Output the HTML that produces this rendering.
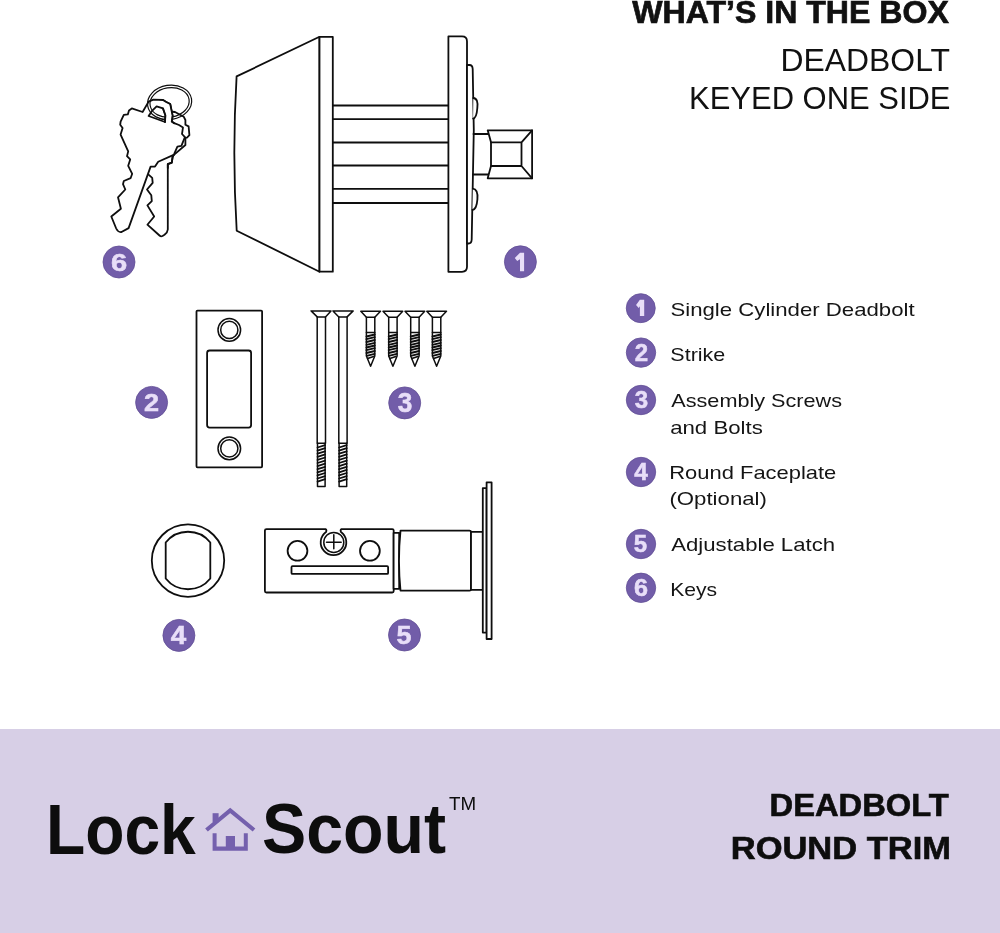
<!DOCTYPE html>
<html><head><meta charset="utf-8">
<style>
html,body{margin:0;padding:0;background:#fff;width:1000px;height:933px;overflow:hidden}
svg{display:block;will-change:transform}
text{font-family:"Liberation Sans",sans-serif}
.ln{fill:none;stroke:#0e0e0e;stroke-width:1.8;stroke-linejoin:round;stroke-linecap:round}
.lf{fill:#fff;stroke:#0e0e0e;stroke-width:1.8;stroke-linejoin:round;stroke-linecap:round}
.thin{stroke-width:1.5}
.bd circle{fill:#7058a6}
.bd text{fill:#e7def7;font-weight:bold;text-anchor:middle}
</style></head>
<body>
<svg width="1000" height="933" viewBox="0 0 1000 933">
<rect x="0" y="0" width="1000" height="933" fill="#fff"/>

<!-- HEADER TEXT -->
<text id="t_what" x="632.20" y="23.1" font-size="31.6" font-weight="bold" fill="#111" stroke="#111" stroke-width="0.7" textLength="316.60" lengthAdjust="spacingAndGlyphs">WHAT’S IN THE BOX</text>
<text id="t_deadbolt" x="780.47" y="71.4" font-size="30.6" fill="#111" textLength="169.54" lengthAdjust="spacingAndGlyphs">DEADBOLT</text>
<text id="t_keyed" x="689.09" y="108.8" font-size="30.6" fill="#111" textLength="261.43" lengthAdjust="spacingAndGlyphs">KEYED ONE SIDE</text>

<!-- DEADBOLT -->
<g id="deadbolt">
<path class="lf" d="M319.5,36.8 L236.6,76.4 Q232,153.5 236.7,230.7 L319.5,271.7 Z"/>
<rect class="lf" x="319.5" y="36.8" width="13.3" height="234.9"/>
<path class="ln" d="M332.8,105.5H448 M332.8,119.1H448 M332.8,142.5H448 M332.8,165.5H448 M332.8,188.9H448 M332.8,203H448"/>
<path class="lf" d="M448.4,36.4 H462 Q467,36.4 467,41.4 V266.8 Q467,271.8 462,271.8 H448.4 Z"/>
<path class="lf" d="M467,65 H469.5 Q472.5,65 472.7,69 L473.8,130 L471.7,239.5 Q471.5,243.5 468.5,243.5 H467 Z"/>
<path class="lf" d="M473.3,98 Q478.6,98.5 477.3,108.3 Q476.6,118.2 473.1,118.7"/>
<path class="lf" d="M472.8,188.6 Q478.3,189.2 477.4,199.3 Q476.6,209.5 472.4,210"/>
<path class="ln" d="M473.5,134 H488.5 M473,174.5 H488.5"/>
<path class="lf" d="M487.7,130.3 H532.1 V178.3 H487.7 L491,166 V142.3 Z"/>
<path class="ln" d="M491,142.3 H521.5 V166 H491 M521.5,142.3 L532.1,130.3 M521.5,166 L532.1,178.3"/>
</g>

<!-- KEYS -->
<g id="keys">
<path class="lf" stroke-width="1.6" d="M183.8,116.8 L185.4,120 L185.4,124.8 L188.6,126.4 L189.4,135.2 L187,137.6 L184.6,137.8 L181.4,145.8 L177.4,146.6 L174.2,153.8 L172.6,157 L171.8,162.6 L167.8,164.2 L167.8,229.5 Q167.6,232.5 164.5,234.8 L162.5,236 Q160.9,236.8 159.5,235.5 L147.4,224.7 L154.2,216.5 L147.4,205.4 L151.8,201.1 L151.3,195.3 L147,189.5 L152.7,182.8 L152.2,177.8 L148.6,174.6 L145,170 L140,140 L150,110 L175,112 Z"/>
<path class="lf" stroke-width="1.6" d="M142.6,112 L131.8,108.4 L129,110.4 L127.8,114.4 L123.8,114.8 L120.6,121.6 L120.2,124.8 L122.6,128 L120.6,134.6 L128.2,151.4 L127,156.2 L130.2,159.4 L128.2,165.8 L132.2,173.8 L130.6,178.2 L123.8,181 L123,184.2 L125.3,189.5 L118,197.3 L120.9,208.8 L111.3,216.5 L116.2,228.5 Q118,232.5 121.5,232 L128.6,228.1 L150.6,166.6 L155,166.6 L158.2,161.8 L174.2,154.6 L185.4,145 L185.4,137.6 L182,134 L183,127.4 L179,125 L174.2,123.2 L171.8,121.6 L172.6,115.6 L170.2,104 L166.2,102 L163,100 L153.4,99.6 L148.6,101.6 Z"/>
<path class="ln" stroke-width="1.6" d="M148.6,116 L151.8,111.2 L156.6,106.4 L163,108.4 L165.4,115.2 L165,122 Z"/>
<ellipse fill="none" stroke="#0e0e0e" stroke-width="1.2" cx="169.6" cy="102.4" rx="22.2" ry="17.2" transform="rotate(-9 169.6 102.4)"/>
<ellipse fill="none" stroke="#0e0e0e" stroke-width="1.2" cx="169.6" cy="102.4" rx="19.7" ry="14.7" transform="rotate(-9 169.6 102.4)"/>
<path fill="#fff" stroke="none" d="M163,100.8 L166.2,102.6 L169.6,104.5 L171.9,115.6 L171.1,121.2 L165.8,121.6 L166.2,115.2 L163.6,107.6 Z"/>
<path class="ln" stroke-width="1.6" d="M163,100 L166.2,102 L170.2,104 L172.6,115.6 L171.8,121.6 L174.2,123.2 M163,108.4 L165.4,115.2 L165,122"/>
<path class="ln" stroke-width="1.6" d="M184.6,137.8 L181.4,145.8 L177.4,146.6 L174.2,153.8 L172.6,157 L171.8,162.6 L167.8,164.2 L167.8,168"/>
</g>

<!-- STRIKE -->
<g id="strike">
<rect class="lf" x="196.5" y="310.6" width="65.6" height="156.7" rx="1"/>
<rect class="lf" x="207.1" y="350.5" width="44" height="77.1" rx="2.5"/>
<circle class="ln thin" cx="229.3" cy="329.9" r="11.3"/>
<circle class="ln thin" cx="229.3" cy="329.9" r="8.6"/>
<circle class="ln thin" cx="229.3" cy="448.4" r="11.3"/>
<circle class="ln thin" cx="229.3" cy="448.4" r="8.6"/>
</g>

<!-- SCREWS -->
<g id="screws">
<path class="ln thin" d="M311.1,310.9 H331 L325.5,316.9 H317.2 Z"/>
<path class="ln thin" d="M317.2,316.9 V443.2 H325.5 V316.9"/>
<path class="ln thin" d="M317.5,443.2 V486.6 H325.1 V443.2"/>
<path class="ln" stroke-width="1.3" d="M317.5,447.5 L325.1,445.1 M317.5,450.6 L325.1,448.2 M317.5,453.7 L325.1,451.3 M317.5,456.8 L325.1,454.4 M317.5,459.9 L325.1,457.5 M317.5,463.0 L325.1,460.6 M317.5,466.1 L325.1,463.7 M317.5,469.2 L325.1,466.8 M317.5,472.3 L325.1,469.9 M317.5,475.4 L325.1,473.0 M317.5,478.5 L325.1,476.1 M317.5,481.6 L325.1,479.2"/>
<path class="ln thin" d="M333,310.9 H353.2 L347.1,316.9 H338.8 Z"/>
<path class="ln thin" d="M338.8,316.9 V443.2 H347.1 V316.9"/>
<path class="ln thin" d="M339.1,443.2 V486.6 H346.70000000000005 V443.2"/>
<path class="ln" stroke-width="1.3" d="M339.1,447.5 L346.70000000000005,445.1 M339.1,450.6 L346.70000000000005,448.2 M339.1,453.7 L346.70000000000005,451.3 M339.1,456.8 L346.70000000000005,454.4 M339.1,459.9 L346.70000000000005,457.5 M339.1,463.0 L346.70000000000005,460.6 M339.1,466.1 L346.70000000000005,463.7 M339.1,469.2 L346.70000000000005,466.8 M339.1,472.3 L346.70000000000005,469.9 M339.1,475.4 L346.70000000000005,473.0 M339.1,478.5 L346.70000000000005,476.1 M339.1,481.6 L346.70000000000005,479.2"/>
<path class="ln thin" d="M360.8,311.2 H380.5 L374.8,317.2 H366.4 Z"/>
<path class="ln thin" d="M366.4,317.2 V332.5 H374.8 V317.2"/>
<path class="ln thin" d="M366.4,332.5 V356 L370.6,366.2 L374.8,356 V332.5"/>
<path class="ln" stroke-width="1.15" d="M366.4,336.5 L374.8,334.5 M366.4,339.2 L374.8,337.2 M366.4,342.0 L374.8,340.0 M366.4,344.8 L374.8,342.8 M366.4,347.5 L374.8,345.5 M366.4,350.2 L374.8,348.2 M366.4,353.0 L374.8,351.0 M366.7,355.8 L374.6,353.8 M367.7,358.5 L373.6,356.5"/>
<path class="ln thin" d="M383.0,311.2 H402.7 L397.1,317.2 H388.7 Z"/>
<path class="ln thin" d="M388.7,317.2 V332.5 H397.1 V317.2"/>
<path class="ln thin" d="M388.7,332.5 V356 L392.9,366.2 L397.1,356 V332.5"/>
<path class="ln" stroke-width="1.15" d="M388.7,336.5 L397.1,334.5 M388.7,339.2 L397.1,337.2 M388.7,342.0 L397.1,340.0 M388.7,344.8 L397.1,342.8 M388.7,347.5 L397.1,345.5 M388.7,350.2 L397.1,348.2 M388.7,353.0 L397.1,351.0 M388.9,355.8 L396.8,353.8 M389.9,358.5 L395.8,356.5"/>
<path class="ln thin" d="M405.0,311.2 H424.7 L419.1,317.2 H410.7 Z"/>
<path class="ln thin" d="M410.7,317.2 V332.5 H419.1 V317.2"/>
<path class="ln thin" d="M410.7,332.5 V356 L414.9,366.2 L419.1,356 V332.5"/>
<path class="ln" stroke-width="1.15" d="M410.7,336.5 L419.1,334.5 M410.7,339.2 L419.1,337.2 M410.7,342.0 L419.1,340.0 M410.7,344.8 L419.1,342.8 M410.7,347.5 L419.1,345.5 M410.7,350.2 L419.1,348.2 M410.7,353.0 L419.1,351.0 M410.9,355.8 L418.8,353.8 M411.9,358.5 L417.8,356.5"/>
<path class="ln thin" d="M426.8,311.2 H446.5 L440.8,317.2 H432.4 Z"/>
<path class="ln thin" d="M432.4,317.2 V332.5 H440.8 V317.2"/>
<path class="ln thin" d="M432.4,332.5 V356 L436.6,366.2 L440.8,356 V332.5"/>
<path class="ln" stroke-width="1.15" d="M432.4,336.5 L440.8,334.5 M432.4,339.2 L440.8,337.2 M432.4,342.0 L440.8,340.0 M432.4,344.8 L440.8,342.8 M432.4,347.5 L440.8,345.5 M432.4,350.2 L440.8,348.2 M432.4,353.0 L440.8,351.0 M432.7,355.8 L440.6,353.8 M433.7,358.5 L439.6,356.5"/>
</g>

<!-- ROUND FACEPLATE -->
<g id="faceplate">
<circle class="ln" cx="188" cy="560.6" r="36.2"/>
<path class="ln" d="M165.7,542.5 A28.5,28.5 0 0 1 210.3,542.5 V578.5 A28.5,28.5 0 0 1 165.7,578.5 Z"/>
</g>

<!-- LATCH -->
<g id="latch">
<path class="lf" d="M266.5,529.1 H325.5 Q327,530 326,532 A12.8,12.8 0 1 0 341,532 Q340,530 341.5,529.1 H392.2 Q393.7,529.1 393.7,530.6 V591 Q393.7,592.5 392.2,592.5 H266.4 Q264.9,592.5 264.9,591 V530.6 Q264.9,529.1 266.5,529.1 Z"/>
<circle class="ln thin" cx="333.8" cy="542.4" r="10"/>
<path class="ln thin" d="M326.5,542.2 H341.2 M333.8,534.7 V548.7"/>
<circle class="ln" cx="297.5" cy="550.8" r="9.9"/>
<circle class="ln" cx="369.9" cy="550.8" r="9.9"/>
<rect class="ln" x="291.5" y="566.2" width="96.6" height="7.7" rx="1"/>
<rect class="lf" x="393.6" y="532.9" width="5.6" height="55.9"/>
<path class="lf" d="M400.5,530.6 H469.5 Q471,530.6 471,532 V589.3 Q471,590.7 469.5,590.7 H400.5 Q397.5,560.6 400.5,530.6 Z"/>
<rect class="lf" x="471" y="531.8" width="11.8" height="58"/>
<rect class="lf" x="482.8" y="488.1" width="3.8" height="144.5"/>
<rect class="lf" x="486.6" y="482.3" width="5" height="156.7"/>
</g>

<!-- BADGES ON DRAWING -->
<g id="badges">
<circle cx="119" cy="262" r="16" fill="#725da9" stroke="#624f96" stroke-width="0.8"/>
<text id="b0" x="119.00" y="271.00" font-size="24.69" font-weight="bold" fill="#e8def8" stroke="#e8def8" stroke-width="0.5" text-anchor="middle" textLength="16.20" lengthAdjust="spacingAndGlyphs">6</text>
<circle cx="520.4" cy="261.8" r="16" fill="#725da9" stroke="#624f96" stroke-width="0.8"/>
<path fill="#e8def8" d="M520.00,252.70 H524.10 V271.20 H520.00 V259.20 L517.20,260.90 L514.80,258.10 Z"/>
<circle cx="151.6" cy="402.4" r="16" fill="#725da9" stroke="#624f96" stroke-width="0.8"/>
<text id="b2" x="151.50" y="411.25" font-size="24.01" font-weight="bold" fill="#e8def8" stroke="#e8def8" stroke-width="0.5" text-anchor="middle" textLength="15.07" lengthAdjust="spacingAndGlyphs">2</text>
<circle cx="404.7" cy="402.9" r="16" fill="#725da9" stroke="#624f96" stroke-width="0.8"/>
<text id="b3" x="405.00" y="412.25" font-size="26.78" font-weight="bold" fill="#e8def8" stroke="#e8def8" stroke-width="0.5" text-anchor="middle" textLength="14.57" lengthAdjust="spacingAndGlyphs">3</text>
<circle cx="178.9" cy="635.4" r="16" fill="#725da9" stroke="#624f96" stroke-width="0.8"/>
<text id="b4" x="178.50" y="644.00" font-size="26.11" font-weight="bold" fill="#e8def8" stroke="#e8def8" stroke-width="0.5" text-anchor="middle" textLength="15.48" lengthAdjust="spacingAndGlyphs">4</text>
<circle cx="404.5" cy="635" r="16" fill="#725da9" stroke="#624f96" stroke-width="0.8"/>
<text id="b5" x="404.00" y="644.00" font-size="26.11" font-weight="bold" fill="#e8def8" stroke="#e8def8" stroke-width="0.5" text-anchor="middle" textLength="15.03" lengthAdjust="spacingAndGlyphs">5</text>
<circle cx="640.75" cy="308.15" r="14.5" fill="#725da9" stroke="#624f96" stroke-width="0.8"/>
<path fill="#e8def8" d="M639.90,299.80 H644.20 V316.10 H639.90 V306.25 L638.70,307.90 L636.05,305.10 Z"/>
<circle cx="641" cy="352.6" r="14.7" fill="#725da9" stroke="#624f96" stroke-width="0.8"/>
<text id="b7" x="641.50" y="360.75" font-size="24.24" font-weight="bold" fill="#e8def8" stroke="#e8def8" stroke-width="0.5" text-anchor="middle" textLength="13.38" lengthAdjust="spacingAndGlyphs">2</text>
<circle cx="641" cy="400" r="14.7" fill="#725da9" stroke="#624f96" stroke-width="0.8"/>
<text id="b8" x="641.50" y="407.75" font-size="24.24" font-weight="bold" fill="#e8def8" stroke="#e8def8" stroke-width="0.5" text-anchor="middle" textLength="13.38" lengthAdjust="spacingAndGlyphs">3</text>
<circle cx="641" cy="472" r="14.7" fill="#725da9" stroke="#624f96" stroke-width="0.8"/>
<text id="b9" x="641.00" y="479.75" font-size="24.24" font-weight="bold" fill="#e8def8" stroke="#e8def8" stroke-width="0.5" text-anchor="middle" textLength="13.58" lengthAdjust="spacingAndGlyphs">4</text>
<circle cx="641" cy="544" r="14.7" fill="#725da9" stroke="#624f96" stroke-width="0.8"/>
<text id="b10" x="640.50" y="551.75" font-size="24.24" font-weight="bold" fill="#e8def8" stroke="#e8def8" stroke-width="0.5" text-anchor="middle" textLength="13.38" lengthAdjust="spacingAndGlyphs">5</text>
<circle cx="641" cy="587.8" r="14.7" fill="#725da9" stroke="#624f96" stroke-width="0.8"/>
<text id="b11" x="641.00" y="595.75" font-size="24.24" font-weight="bold" fill="#e8def8" stroke="#e8def8" stroke-width="0.5" text-anchor="middle" textLength="14.01" lengthAdjust="spacingAndGlyphs">6</text>
</g>

<!-- LIST -->
<g fill="#151515" font-size="18.2">
<text id="t_single" x="670.47" y="315.9" textLength="244.16" lengthAdjust="spacingAndGlyphs">Single Cylinder Deadbolt</text>
<text id="t_strike" x="670.36" y="361.2" textLength="54.90" lengthAdjust="spacingAndGlyphs">Strike</text>
<text id="t_assembly" x="671.30" y="406.6" textLength="170.71" lengthAdjust="spacingAndGlyphs">Assembly Screws</text>
<text id="t_andbolts" x="670.17" y="433.6" textLength="92.68" lengthAdjust="spacingAndGlyphs">and Bolts</text>
<text id="t_round" x="669.27" y="479" textLength="167.06" lengthAdjust="spacingAndGlyphs">Round Faceplate</text>
<text id="t_optional" x="669.45" y="505.3" textLength="97.49" lengthAdjust="spacingAndGlyphs">(Optional)</text>
<text id="t_adjust" x="671.29" y="551" textLength="163.78" lengthAdjust="spacingAndGlyphs">Adjustable Latch</text>
<text id="t_keys" x="670.15" y="596" textLength="46.90" lengthAdjust="spacingAndGlyphs">Keys</text>
</g>

<!-- FOOTER -->
<rect x="0" y="729" width="1000" height="204" fill="#d7cfe6"/>
<g fill="#0d0d0d">
<text id="t_lock" x="46.06" y="854" font-size="70" font-weight="bold" textLength="149.76" lengthAdjust="spacingAndGlyphs">Lock</text>
<text id="t_scout" x="261.96" y="853" font-size="70" font-weight="bold" textLength="184.18" lengthAdjust="spacingAndGlyphs">Scout</text>
<text id="t_tm" x="449.12" y="810" font-size="17.6" textLength="27.13" lengthAdjust="spacingAndGlyphs">TM</text>
<text id="t_db2" x="769.55" y="816.2" font-size="30.7" font-weight="bold" stroke="#0d0d0d" stroke-width="0.6" textLength="179.25" lengthAdjust="spacingAndGlyphs">DEADBOLT</text>
<text id="t_rt" x="730.74" y="859" font-size="30.7" font-weight="bold" stroke="#0d0d0d" stroke-width="0.6" textLength="220.33" lengthAdjust="spacingAndGlyphs">ROUND TRIM</text>
</g>
<g fill="#7460ad">
<polyline points="206.5,830 230.2,810.5 254,830" fill="none" stroke="#7460ad" stroke-width="4.2"/>
<rect x="212.6" y="813.2" width="6" height="9"/>
<path d="M212.6,833.2 H216.6 V846.4 H225.8 V836 H235 V846.4 H243.8 V833.2 H247.8 V850.8 H212.6 Z"/>
</g>
</svg>
</body></html>
